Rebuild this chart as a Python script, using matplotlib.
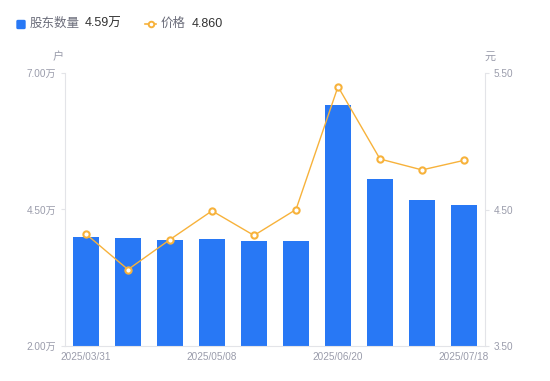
import matplotlib
matplotlib.use("Agg")
import matplotlib.pyplot as plt
import numpy as np

plt.rcParams['font.family'] = ['Liberation Sans', 'Noto Sans CJK SC', 'DejaVu Sans']

# data
dates = ["2025/03/31", "2025/04/11", "2025/04/20", "2025/05/08", "2025/05/20",
         "2025/05/31", "2025/06/20", "2025/06/30", "2025/07/10", "2025/07/18"]
holders = [4.00, 3.98, 3.95, 3.96, 3.92, 3.92, 6.41, 5.06, 4.67, 4.59]  # 万户
price = [4.32, 4.06, 4.28, 4.49, 4.31, 4.50, 5.40, 4.87, 4.79, 4.86]
tick_idx = [0, 3, 6, 9]

blue = "#2878f5"
orange = "#f7b23b"
grey = "#9a9cab"
axis_grey = "#e3e4e8"

fig = plt.figure(figsize=(5.5, 3.81), dpi=100)
ax = fig.add_axes([65 / 550, 35 / 381, 420 / 550, 273 / 381])
x = np.arange(len(dates))

ax.bar(x, holders, width=0.6, color=blue, zorder=2)
ax.set_xlim(-0.5, len(dates) - 0.5)
ax.set_ylim(2.0, 7.0)
ax.set_yticks([2.0, 4.5, 7.0])
ax.set_yticklabels(["2.00万", "4.50万", "7.00万"])
ax.set_xticks(tick_idx)
ax.set_xticklabels([dates[i] for i in tick_idx])

ax2 = ax.twinx()
ax2.plot(x, price, color=orange, lw=1, marker="o", ms=4.5, mfc="white",
         mec=orange, mew=1.5, zorder=3)
ax2.set_ylim(3.5, 5.5)
ax2.set_yticks([3.5, 4.5, 5.5])
ax2.set_yticklabels(["3.50", "4.50", "5.50"])

for a in (ax, ax2):
    for s in a.spines.values():
        s.set_visible(False)
    a.tick_params(colors=grey, labelsize=7.2, length=3, width=0.8)
    a.tick_params(axis="y", color=axis_grey)
ax.spines["left"].set_visible(True)
ax.spines["left"].set_color(axis_grey)
ax.spines["bottom"].set_visible(True)
ax.spines["bottom"].set_color(axis_grey)
ax2.spines["right"].set_visible(True)
ax2.spines["right"].set_color(axis_grey)
ax.tick_params(axis="x", length=0, pad=4)
ax.set_zorder(ax2.get_zorder() - 1)
ax.patch.set_visible(False)

# unit labels
fig.text(58 / 550, 1 - 57 / 381, "户", color=grey, fontsize=8, ha="center", va="center")
fig.text(490 / 550, 1 - 57 / 381, "元", color=grey, fontsize=8, ha="center", va="center")

# legend
fig.patches.append(matplotlib.patches.FancyBboxPatch(
    (17 / 550, 1 - 28.5 / 381), 8 / 550, 8 / 381, boxstyle="round,pad=0,rounding_size=0.002",
    transform=fig.transFigure, color=blue))
fig.text(30 / 550, 1 - 24 / 381, "股东数量", color="#6b6d7a", fontsize=9, va="center")
fig.text(85 / 550, 1 - 24 / 381, "4.59万", color="#333333", fontsize=9, va="center")
fig.add_artist(matplotlib.lines.Line2D([145 / 550, 156 / 550], [1 - 24 / 381] * 2,
                                       transform=fig.transFigure, color=orange, lw=1.2))
fig.add_artist(matplotlib.lines.Line2D([150.5 / 550], [1 - 24 / 381], transform=fig.transFigure,
                                       marker="o", ms=4, mfc="white", mec=orange, mew=1.4))
fig.text(161 / 550, 1 - 24 / 381, "价格", color="#6b6d7a", fontsize=9, va="center")
fig.text(192 / 550, 1 - 24 / 381, "4.860", color="#333333", fontsize=9, va="center")

fig.savefig("out.png", dpi=100)
